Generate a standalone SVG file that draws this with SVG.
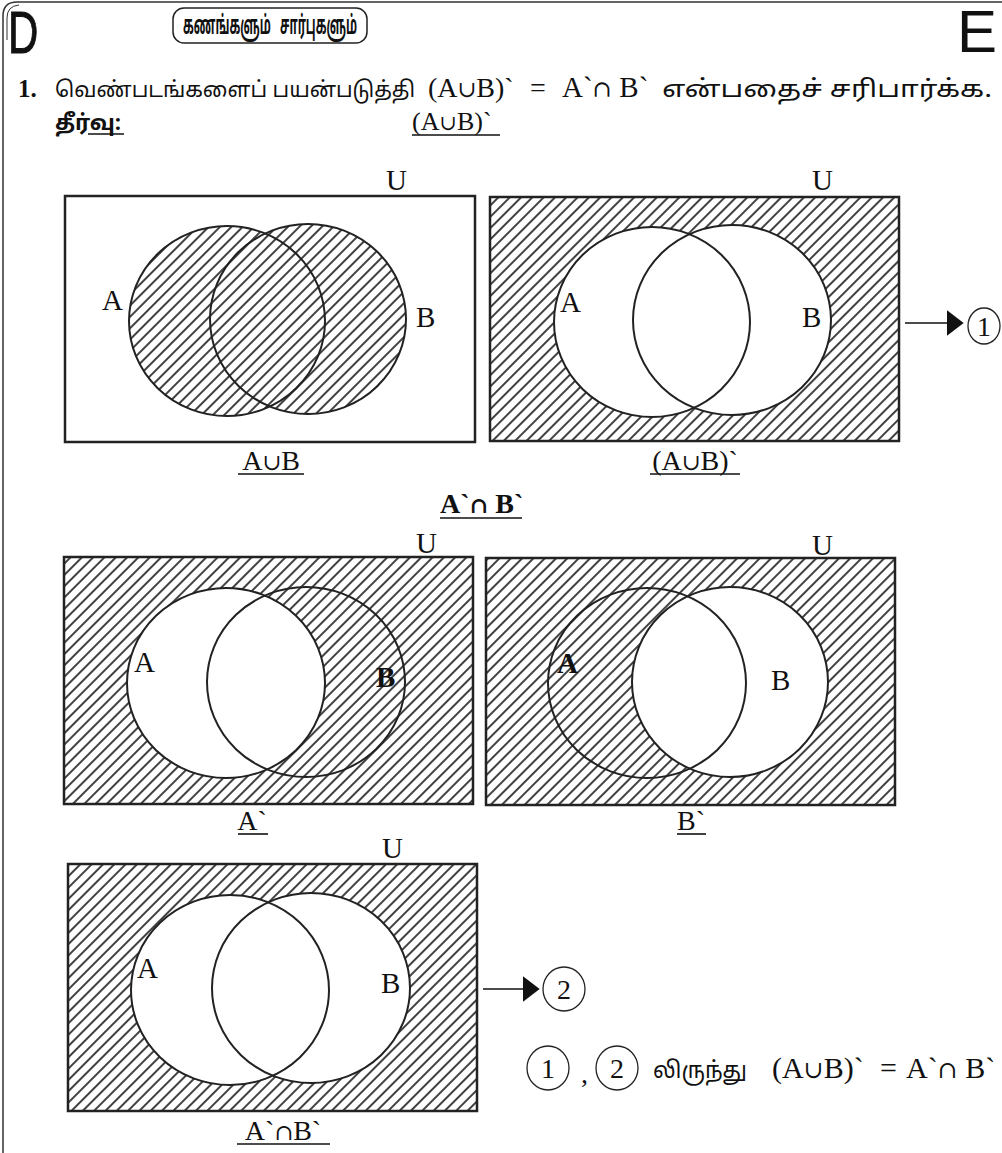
<svg xmlns="http://www.w3.org/2000/svg" width="1002" height="1153" viewBox="0 0 1002 1153">
<style>
.ser{font-family:"Liberation Serif","Times New Roman",serif;fill:#111}
.sym{font-family:"DejaVu Serif","DejaVu Sans",serif;font-size:0.8em}
.tam{font-family:"Noto Sans Tamil","Noto Serif Tamil","Lohit Tamil","Noto Sans",sans-serif;fill:#111}
.box{fill:#fff;stroke:#222;stroke-width:2.5}
.hbox{fill:url(#h);stroke:#222;stroke-width:2.5}
.c{fill:none;stroke:#222;stroke-width:2}
.cw{fill:#fff;stroke:none}
.ch{fill:url(#h);stroke:none}
.lbl{font-size:29px}
.ul{stroke:#111;stroke-width:1.6}
.num{fill:none;stroke:#222;stroke-width:1.3}
</style>
<defs>
<pattern id="h" patternUnits="userSpaceOnUse" width="8" height="8" patternTransform="rotate(45)">
<line x1="4" y1="0" x2="4" y2="8" stroke="#111" stroke-width="1.6"/>
</pattern>
<marker id="ah" viewBox="0 0 10 10" refX="9" refY="5" markerWidth="17" markerHeight="26" markerUnits="userSpaceOnUse" orient="auto" preserveAspectRatio="none">
<path d="M0,0 L10,5 L0,10 z" fill="#111"/>
</marker>
</defs>
<rect width="1002" height="1153" fill="#fff"/>

<g id="page-frame">
<path d="M3,1153 V16 Q3,2 17,2 H1002" fill="none" stroke="#333" stroke-width="1.5"/>
<path d="M7,40 V18 Q7,6 19,5" fill="none" stroke="#333" stroke-width="1"/>
</g>

<g id="header">
<text transform="translate(8,53) scale(0.7,1)" font-family="Liberation Sans,Arial,sans-serif" font-size="60" fill="#111" stroke="#111" stroke-width="1">D</text>
<text x="957" y="52" font-family="Liberation Sans,Arial,sans-serif" font-size="60" fill="#111">E</text>
<rect x="173" y="8" width="194" height="35" rx="11" fill="#fff" stroke="#222" stroke-width="1.5"/>
<text x="183" y="34" class="tam" font-size="26" font-weight="bold" textLength="174" lengthAdjust="spacingAndGlyphs" xml:space="preserve">கணங்களும்   சார்புகளும்</text>
</g>

<g id="question">
<text x="18" y="97" class="ser" font-size="25" font-weight="bold">1.</text>
<text x="55" y="97" class="tam" font-size="22" textLength="360" lengthAdjust="spacingAndGlyphs">வெண்படங்களைப் பயன்படுத்தி</text>
<text x="428" y="97" class="ser" font-size="28">(A<tspan class="sym">∪</tspan>B)`</text>
<text x="530" y="97" class="ser" font-size="28">=</text>
<text x="562" y="97" class="ser" font-size="29" xml:space="preserve">A`<tspan class="sym">∩</tspan> B`</text>
<text x="662" y="97" class="tam" font-size="24" textLength="330" lengthAdjust="spacingAndGlyphs">என்பதைச் சரிபார்க்க.</text>
<text x="55" y="130" class="tam" font-size="22" font-weight="bold">தீர்வு:</text>
<line x1="88" y1="134" x2="124" y2="134" class="ul"/>
<text x="412" y="130" class="ser" font-size="26">(A<tspan class="sym">∪</tspan>B)`</text>
<line x1="412" y1="135" x2="500" y2="135" class="ul"/>
</g>

<g id="venn-union">
<rect x="65" y="196" width="410" height="246" class="box"/>
<path class="ch" d="M129,321 a98,95 0 1,0 196,0 a98,95 0 1,0 -196,0 Z M210,319 a98,95 0 1,0 196,0 a98,95 0 1,0 -196,0 Z"/>
<ellipse cx="227" cy="321" rx="98" ry="95" class="c"/>
<ellipse cx="308" cy="319" rx="98" ry="95" class="c"/>
<text x="102" y="310" class="ser lbl">A</text>
<text x="416" y="327" class="ser lbl">B</text>
<text x="386" y="190" class="ser lbl">U</text>
<text x="271" y="470" text-anchor="middle" class="ser" font-size="28">A<tspan class="sym">∪</tspan>B</text>
<line x1="238" y1="474" x2="304" y2="474" class="ul"/>
</g>

<g id="venn-union-complement">
<rect x="490" y="197" width="409" height="244" class="hbox"/>
<ellipse cx="652" cy="322" rx="98" ry="95" class="cw"/>
<ellipse cx="732" cy="320" rx="99" ry="95" class="cw"/>
<ellipse cx="652" cy="322" rx="98" ry="95" class="c"/>
<ellipse cx="732" cy="320" rx="99" ry="95" class="c"/>
<text x="560" y="312" class="ser lbl">A</text>
<text x="802" y="327" class="ser lbl">B</text>
<text x="812" y="190" class="ser lbl">U</text>
<text x="695" y="470" text-anchor="middle" class="ser" font-size="28">(A<tspan class="sym">∪</tspan>B)`</text>
<line x1="650" y1="474" x2="740" y2="474" class="ul"/>
</g>

<g id="circle-1">
<ellipse cx="984" cy="326" rx="16" ry="18" class="num"/>
<text x="984" y="336" text-anchor="middle" class="ser" font-size="28">1</text>
</g>

<g id="title-2">
<text x="440" y="513" class="ser" font-size="28" font-weight="bold">A`<tspan class="sym">∩</tspan> B`</text>
<line x1="440" y1="518" x2="522" y2="518" class="ul"/>
</g>

<g id="venn-a-complement">
<rect x="64" y="557" width="409" height="247" class="hbox"/>
<ellipse cx="226" cy="683" rx="99" ry="95" class="cw"/>
<ellipse cx="226" cy="683" rx="99" ry="95" class="c"/>
<ellipse cx="306" cy="682" rx="99" ry="95" class="c"/>
<text x="134" y="672" class="ser lbl">A</text>
<text x="376" y="687" class="ser lbl" font-weight="bold">B</text>
<text x="416" y="553" class="ser lbl">U</text>
<text x="252" y="830" text-anchor="middle" class="ser" font-size="28">A`</text>
<line x1="238" y1="834" x2="268" y2="834" class="ul"/>
</g>

<g id="venn-b-complement">
<rect x="486" y="558" width="409" height="247" class="hbox"/>
<ellipse cx="730" cy="682" rx="98" ry="95" class="cw"/>
<ellipse cx="647" cy="683" rx="99" ry="95" class="c"/>
<ellipse cx="730" cy="682" rx="98" ry="95" class="c"/>
<text x="557" y="673" class="ser lbl" font-weight="bold">A</text>
<text x="771" y="690" class="ser lbl">B</text>
<text x="812" y="555" class="ser lbl">U</text>
<text x="691" y="830" text-anchor="middle" class="ser" font-size="28">B`</text>
<line x1="677" y1="834" x2="706" y2="834" class="ul"/>
</g>

<g id="venn-intersection-complement">
<rect x="68" y="864" width="409" height="247" class="hbox"/>
<ellipse cx="230" cy="990" rx="99" ry="95" class="cw"/>
<ellipse cx="311" cy="988" rx="99" ry="95" class="cw"/>
<ellipse cx="230" cy="990" rx="99" ry="95" class="c"/>
<ellipse cx="311" cy="988" rx="99" ry="95" class="c"/>
<text x="137" y="978" class="ser lbl">A</text>
<text x="381" y="993" class="ser lbl">B</text>
<text x="382" y="858" class="ser lbl">U</text>
<text x="283" y="1140" text-anchor="middle" class="ser" font-size="28">A`<tspan class="sym">∩</tspan>B`</text>
<line x1="237" y1="1144" x2="330" y2="1144" class="ul"/>
</g>

<g id="circle-2">
<ellipse cx="564" cy="989" rx="21" ry="22" class="num"/>
<text x="564" y="999" text-anchor="middle" class="ser" font-size="28">2</text>
</g>

<g id="conclusion">
<ellipse cx="548" cy="1068" rx="21" ry="22" class="num"/>
<text x="548" y="1078" text-anchor="middle" class="ser" font-size="28">1</text>
<text x="581" y="1083" class="ser" font-size="28">,</text>
<ellipse cx="617" cy="1068" rx="21" ry="22" class="num"/>
<text x="617" y="1078" text-anchor="middle" class="ser" font-size="28">2</text>
<text x="653" y="1078" class="tam" font-size="23" textLength="94" lengthAdjust="spacingAndGlyphs">லிருந்து</text>
<text x="772" y="1078" class="ser" font-size="30">(A<tspan class="sym">∪</tspan>B)`</text>
<text x="880" y="1078" class="ser" font-size="30">=</text>
<text x="906" y="1078" class="ser" font-size="30" xml:space="preserve">A`<tspan class="sym">∩</tspan> B`</text>
</g>

<g id="connectors">
<line x1="905" y1="323" x2="962" y2="323" stroke="#111" stroke-width="1.5" marker-end="url(#ah)"/>
<line x1="483" y1="989" x2="538" y2="989" stroke="#111" stroke-width="1.5" marker-end="url(#ah)"/>
</g>
</svg>
